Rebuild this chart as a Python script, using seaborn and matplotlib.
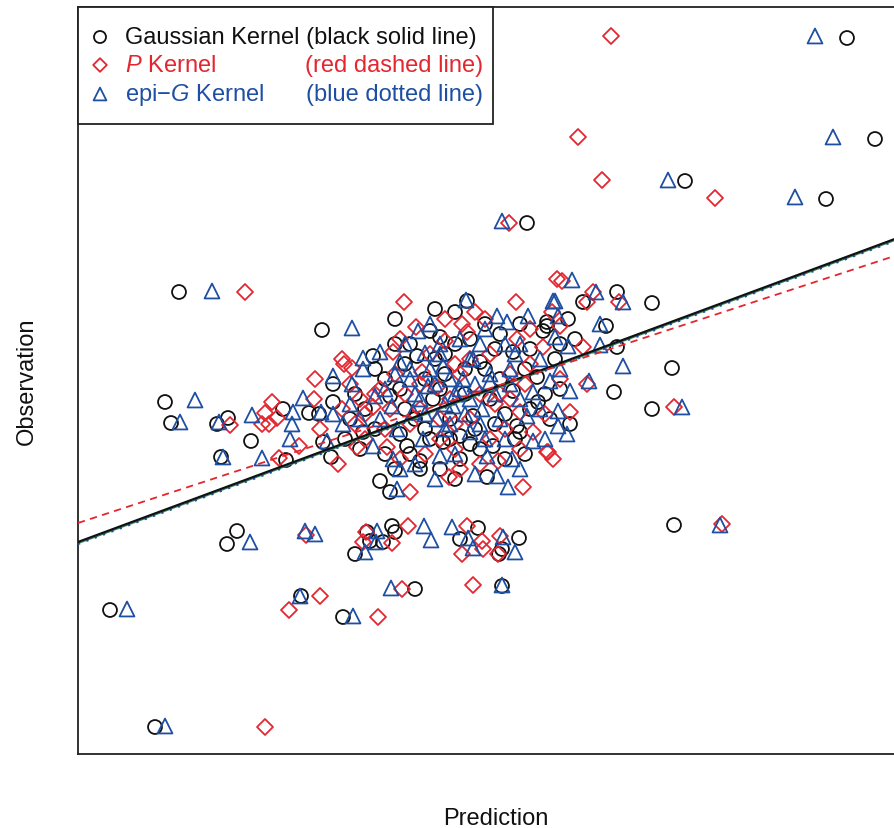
import numpy as np
import pandas as pd
import matplotlib
matplotlib.use("Agg")
import matplotlib.pyplot as plt
import seaborn as sns
from matplotlib.patches import Rectangle

sns.set_theme(style="white")
plt.rcParams["font.family"] = ["Liberation Sans", "DejaVu Sans"]
plt.rcParams["mathtext.fontset"] = "custom"
plt.rcParams["mathtext.rm"] = "Liberation Sans"
plt.rcParams["mathtext.it"] = "Liberation Sans:italic"

# Predicted vs observed values for each kernel
gauss_pred = [7.69, 7.97, 6.07, 7.48, 4.49, 1.01, 2.44, 0.87, 0.93, 1.50, 1.39, 1.73, 1.43, 2.08, 2.05,
              2.31, 2.41, 2.55, 2.55, 2.45, 2.53,
              1.59, 1.49, 3.14, 3.17, 2.92, 3.05, 2.89, 2.77, 4.00, 3.82, 4.24, 4.21, 4.41, 3.37,
              2.23, 4.24, 2.65, 0.32, 0.77, 5.96,
              5.39, 5.74, 5.94, 5.36, 5.74, 5.39, 5.28, 5.05, 4.90, 4.69, 4.97, 4.92,
              3.77, 3.89, 4.07, 3.52, 3.62, 2.95, 2.97, 4.69, 4.65, 4.59, 4.60, 4.42, 4.39, 3.82,
              3.82, 3.42, 3.42, 4.09, 3.12, 3.02, 3.12, 3.55, 3.95, 3.65, 3.29, 4.15, 4.02, 3.39,
              4.35, 2.85, 4.35, 3.22,
              2.72, 2.67, 3.27, 3.47, 3.67, 3.87, 4.12, 4.22, 4.47, 4.77, 4.82, 3.72, 3.92, 4.27,
              3.52, 3.07, 3.17, 3.62, 3.77, 4.47, 2.77, 2.87, 3.32, 3.67, 3.92, 4.17, 4.52, 4.82,
              3.17, 3.27, 3.37, 3.47, 3.57, 3.77, 3.87, 3.97, 4.07, 4.17, 4.27, 4.37, 4.52, 4.67,
              4.72, 3.62, 3.72, 4.02, 3.22, 3.32, 3.07, 2.97, 2.82, 4.22, 4.42, 3.57, 3.17]
gauss_obs = [7.16, 6.15, 5.73, 5.55, 5.31, 4.62, 4.24, 3.52, 3.31, 3.36, 3.30, 3.13, 2.97, 2.94, 3.45,
             3.41, 3.40, 3.52, 3.70, 3.12, 2.97,
             2.23, 2.10, 2.28, 2.22, 2.13, 2.12, 2.22, 2.00, 2.26, 2.15, 2.05, 2.00, 2.16, 1.65,
             1.58, 1.68, 1.37, 1.44, 0.27, 2.29,
             4.62, 4.51, 3.86, 3.62, 3.45, 4.07, 4.28, 4.52, 4.35, 4.28, 4.15, 3.30,
             4.42, 4.53, 4.30, 4.23, 4.17, 3.98, 3.85, 4.32, 4.23, 3.77, 3.52, 3.22, 3.28, 3.18,
             2.95, 2.85, 2.93, 2.77, 2.62, 2.73, 3.58, 3.55, 3.38, 3.12, 3.08, 3.08, 3.92, 3.98,
             4.02, 3.22, 3.63, 3.65,
             3.35, 3.15, 3.45, 3.75, 3.80, 3.60, 3.55, 3.75, 3.85, 3.95, 3.65, 3.35, 3.10, 2.95,
             3.15, 3.00, 2.85, 2.85, 2.75, 3.00, 3.60, 3.45, 4.10, 4.00, 4.15, 4.05, 4.05, 4.10,
             4.10, 3.90, 3.35, 3.25, 3.95, 4.10, 3.85, 3.25, 3.85, 3.30, 3.40, 3.15, 3.45, 3.60,
             3.35, 3.65, 3.15, 3.05, 3.20, 3.00, 3.75, 3.25, 3.05, 4.20, 4.30, 4.45, 4.35]

p_pred = [5.33, 5.00, 5.24, 6.37, 4.31, 1.67, 3.26, 4.38, 1.52, 2.01, 1.94, 1.87, 1.84, 1.91, 1.99,
          2.21, 2.37, 2.36, 2.42, 2.64, 2.66, 2.74, 2.60, 2.79, 2.64,
          2.28, 2.88, 2.85, 3.14, 3.30, 3.89, 3.84, 4.04, 4.05, 4.20, 4.22, 3.24, 3.95, 2.42,
          2.11, 3.00, 1.87, 6.44, 5.96,
          4.84, 5.15, 5.41, 5.09, 4.82, 5.05, 5.09, 4.92, 4.70, 4.75,
          3.97, 3.84, 3.38, 3.67, 4.65, 3.15, 3.44, 4.69, 3.71, 4.45, 4.20, 3.09, 3.32, 4.79,
          2.95, 3.59, 3.92, 4.42, 4.55, 4.39, 3.89, 4.74,
          2.82, 2.87, 3.02, 3.17, 3.27, 3.42, 3.72, 3.82, 4.02, 4.17, 4.27, 3.77, 3.47, 4.02,
          4.32, 4.52, 3.62, 3.07, 2.72, 2.77,
          3.22, 3.52, 3.77, 4.12, 4.47, 4.22, 3.92, 3.62, 3.32, 3.12, 2.97, 2.87, 4.42, 4.12,
          3.82, 4.67, 4.82, 4.07, 3.67, 3.42, 3.77, 4.32, 3.22, 4.52]
p_obs = [7.18, 6.17, 5.74, 5.56, 5.31, 4.62, 4.52, 4.52, 3.29, 2.96, 3.52, 3.41, 3.30, 3.30, 3.36,
         3.08, 3.75, 3.55, 3.25, 3.95, 3.90, 3.86, 2.90, 3.07, 3.45,
         2.19, 2.22, 2.12, 2.11, 2.28, 2.28, 2.00, 2.13, 2.05, 2.00, 2.18, 1.65, 1.69, 1.58,
         1.44, 1.37, 0.27, 2.30, 3.47,
         4.73, 4.62, 4.52, 4.52, 4.28, 4.07, 3.70, 3.42, 3.02, 2.95,
         4.42, 4.30, 4.27, 4.13, 4.07, 4.02, 3.82, 3.02, 2.77, 2.67, 2.93, 3.07, 2.62, 4.75,
         3.47, 3.67, 3.95, 3.42, 3.22, 4.15, 4.22, 4.42,
         3.55, 3.40, 3.65, 3.80, 3.60, 3.45, 3.55, 3.80, 3.60, 3.50, 3.25, 3.05, 3.00, 2.90,
         3.80, 3.90, 3.35, 3.25, 3.70, 3.30,
         4.15, 4.00, 3.90, 4.00, 3.70, 3.60, 3.35, 3.15, 3.30, 3.45, 3.60, 3.15, 3.05, 3.15,
         2.85, 3.40, 3.75, 4.35, 4.35, 3.70, 3.30, 3.55, 2.95, 4.25]

epi_pred = [7.37, 7.55, 5.90, 7.17, 4.24, 1.34, 2.74, 1.17, 1.02, 1.41, 1.74, 2.12, 2.14, 1.84, 1.45,
            2.25, 2.15, 2.43, 2.55, 2.74, 2.55, 2.65, 2.49, 2.85, 2.85,
            1.72, 2.27, 2.37, 2.99, 2.87, 2.98, 3.46, 3.53, 3.74, 3.90, 3.95, 4.25, 4.37, 3.13,
            2.22, 4.24, 2.75, 0.49, 0.87, 6.42,
            5.45, 6.04, 5.22, 5.22, 4.94, 5.18, 5.45, 4.77, 4.80, 4.77, 4.90, 5.11, 4.92, 4.80, 4.89,
            3.88, 4.75, 4.19, 4.50, 4.29, 3.40, 3.82, 3.02, 3.47, 3.95, 4.72, 3.65, 3.22, 3.32,
            4.12, 2.97, 3.14, 3.50, 3.85, 4.32, 4.55, 3.75, 4.04, 3.35, 3.59, 3.19, 4.22, 4.49,
            2.95, 3.45, 3.92, 4.55, 4.80, 3.15, 3.62, 4.09, 4.34, 3.22, 4.19, 4.30, 3.19,
            3.77, 3.97, 4.42, 3.67, 3.37, 3.02, 2.72, 4.62, 4.27, 4.07, 3.52,
            3.27, 3.62, 4.07, 4.42, 3.72, 4.17, 4.62, 3.42, 3.87, 4.27, 3.77, 3.37, 3.07, 2.82,
            4.42, 3.97, 3.57, 4.67, 4.82, 3.52, 3.17, 3.92, 4.37, 4.02, 3.67,
            3.57, 3.82, 4.12, 3.47, 3.72, 4.02, 4.32, 3.32, 3.62, 3.92]
epi_obs = [7.18, 6.17, 5.74, 5.57, 5.33, 4.63, 4.26, 3.54, 3.32, 3.32, 3.39, 3.15, 3.30, 2.96, 2.97,
           3.56, 3.42, 3.42, 3.78, 3.70, 3.40, 3.30, 3.13, 3.96, 3.85,
           2.12, 2.23, 2.20, 2.23, 2.02, 2.12, 2.28, 2.14, 2.27, 2.16, 2.06, 2.17, 2.02, 1.66,
           1.58, 1.69, 1.38, 1.45, 0.28, 2.29,
           3.88, 3.47, 4.30, 4.09, 4.74, 4.62, 4.52, 4.53, 4.38, 4.17, 4.08, 3.73, 3.63, 3.43, 3.20,
           4.54, 4.53, 4.38, 4.38, 4.32, 4.23, 4.15, 4.02, 4.01, 3.95, 3.73, 3.88, 3.92, 3.75,
           3.72, 3.58, 3.48, 3.68, 3.75, 3.85, 3.62, 3.48, 3.45, 3.42, 3.35, 3.25, 3.35, 3.38,
           3.08, 3.15, 3.22, 3.13, 3.28, 2.95, 2.98, 2.98, 2.95, 2.85, 2.78, 2.67, 2.65,
           3.60, 3.70, 3.55, 3.25, 3.60, 3.35, 3.50, 3.95, 4.10, 3.15, 3.85,
           4.10, 4.10, 4.25, 4.10, 3.75, 3.60, 3.45, 3.55, 3.40, 3.15, 3.00, 2.90, 3.65, 3.35,
           2.85, 2.80, 2.75, 3.15, 3.85, 4.30, 3.80, 3.55, 4.00, 4.10, 3.50,
           3.70, 3.65, 3.80, 3.40, 3.30, 3.30, 3.70, 3.85, 4.00, 3.95]

# Fitted regression lines (intercept, slope)
fit_gauss = (2.12, 0.371)
fit_p = (2.31, 0.327)
fit_epi = (2.10, 0.371)

RED = "#E3262F"
BLUE = "#1F4FA3"
BLACK = "#111111"

X_MAX, Y_MAX = 8.35, 7.47

fig = plt.figure(figsize=(8.95, 8.29), dpi=100)
ax = fig.add_axes([78 / 895, 74 / 829, (913 - 78) / 895, 747 / 829])

df_g = pd.DataFrame({"pred": gauss_pred, "obs": gauss_obs})
df_p = pd.DataFrame({"pred": p_pred, "obs": p_obs})
df_e = pd.DataFrame({"pred": epi_pred, "obs": epi_obs})

sns.scatterplot(data=df_g, x="pred", y="obs", ax=ax, marker="o", s=100,
                facecolor="none", edgecolor=BLACK, linewidth=1.3, zorder=3)
sns.scatterplot(data=df_p, x="pred", y="obs", ax=ax, marker="D", s=66,
                facecolor="none", edgecolor=RED, linewidth=1.3, zorder=3)
sns.scatterplot(data=df_e, x="pred", y="obs", ax=ax, marker="^", s=115,
                facecolor="none", edgecolor=BLUE, linewidth=1.3, zorder=3)

xs = np.array([0.0, X_MAX])
ax.plot(xs, fit_gauss[0] - 0.015 + fit_gauss[1] * xs, color="#2E8B57", lw=0.9, zorder=4)
ax.plot(xs, fit_epi[0] + fit_epi[1] * xs, color=BLUE, lw=1.6, ls=(0, (1, 3)), zorder=5)
ax.plot(xs, fit_gauss[0] + fit_gauss[1] * xs, color=BLACK, lw=1.6, zorder=6)
ax.plot(xs, fit_p[0] + fit_p[1] * xs, color=RED, lw=1.3, ls=(0, (4, 3)), zorder=6)

ax.set_xlim(0, X_MAX)
ax.set_ylim(0, Y_MAX)
ax.set_xticks([])
ax.set_yticks([])
for side in ["left", "top", "bottom", "right"]:
    ax.spines[side].set_color("#222222")
    ax.spines[side].set_linewidth(1.3)

ax.set_xlabel("Prediction", fontsize=17, labelpad=38, color="#111111")
ax.set_ylabel("Observation", fontsize=17, labelpad=29, color="#111111")

# Legend box
ax.add_patch(Rectangle((0, 6.30), 4.15, Y_MAX - 6.30, facecolor="white",
                       edgecolor="#222222", lw=1.3, zorder=10, clip_on=False))
rows = [7.17, 6.89, 6.60]
ax.scatter([0.22], [rows[0]], marker="o", s=75, facecolor="none", edgecolor=BLACK, lw=1.3, zorder=11)
ax.scatter([0.22], [rows[1]], marker="D", s=48, facecolor="none", edgecolor=RED, lw=1.3, zorder=11)
ax.scatter([0.22], [rows[2]], marker="^", s=85, facecolor="none", edgecolor=BLUE, lw=1.3, zorder=11)
ax.text(0.47, rows[0], "Gaussian Kernel (black solid line)", color=BLACK, fontsize=17,
        va="center", ha="left", zorder=11)
ax.text(0.47, rows[1], "$P$ Kernel", color=RED, fontsize=17, va="center", ha="left", zorder=11)
ax.text(4.05, rows[1], "(red dashed line)", color=RED, fontsize=17, va="center", ha="right", zorder=11)
ax.text(0.47, rows[2], "epi\u2212$G$ Kernel", color=BLUE, fontsize=17, va="center", ha="left", zorder=11)
ax.text(4.05, rows[2], "(blue dotted line)", color=BLUE, fontsize=17, va="center", ha="right", zorder=11)

fig.savefig("out.png", dpi=100)
